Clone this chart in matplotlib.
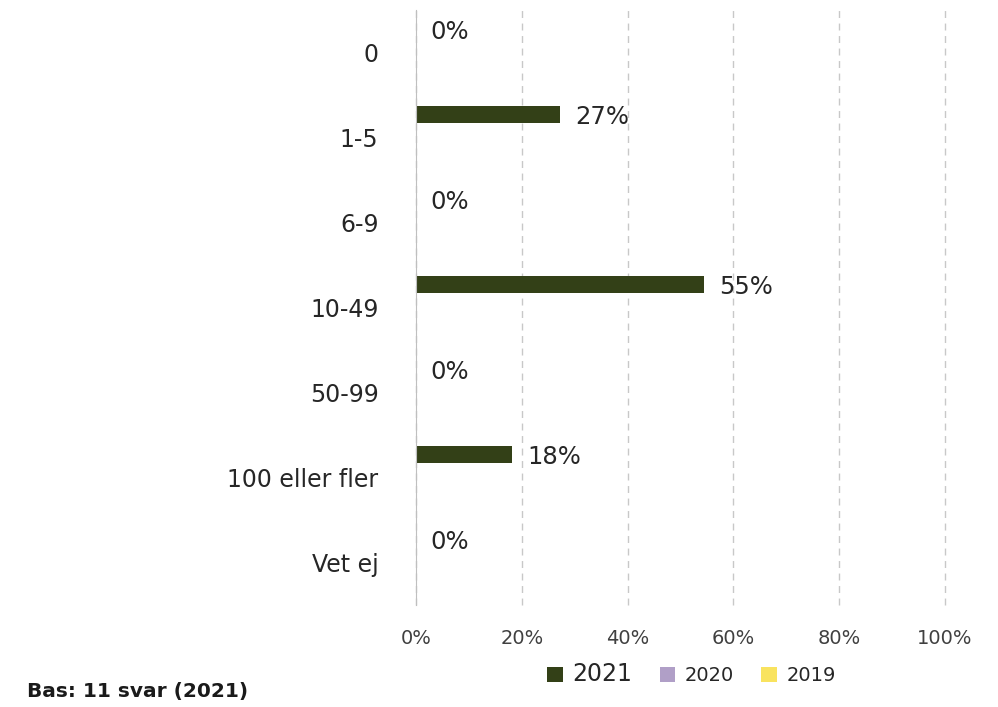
import numpy as np
import matplotlib
matplotlib.use('Agg')
import matplotlib.pyplot as plt

categories = ['0', '1-5', '6-9', '10-49', '50-99', '100 eller fler', 'Vet ej']
v2021 = [0.0, 27.3, 0.0, 54.5, 0.0, 18.2, 0.0]
v2020 = [np.nan] * 7
v2019 = [np.nan] * 7
series = ['2021', '2020', '2019']
colors = ['#334017', '#b09fc7', '#f9e35f']

plt.rcParams['font.family'] = 'DejaVu Sans'

fig = plt.figure(figsize=(9.98, 7.07), dpi=100)
ax = fig.add_axes([0.4168, 0.1443, 0.5302, 0.8416])

y = np.arange(len(categories))
h = 0.21
off = 0.27
for i, (vals, name, c) in enumerate(zip([v2021, v2020, v2019], series, colors)):
    ax.barh(y - off + i * off, vals, height=h, color=c, label=name)

# data labels for 2021
for yi, v in zip(y, v2021):
    ax.text(v + 2.8, yi - off + 0.03, '%d%%' % int(v + 0.5), va='center', ha='left',
            fontsize=17.5, color='#262626')

ax.set_xlim(0, 100)
ax.set_ylim(len(categories) - 0.5, -0.5)
ax.set_xticks(np.arange(0, 101, 20))
ax.set_xticklabels(['%d%%' % t for t in range(0, 101, 20)], fontsize=14, color='#404040')
ax.set_yticks(y)
ax.set_yticklabels(categories, fontsize=17, color='#262626')
ax.tick_params(axis='both', length=0)
ax.tick_params(axis='y', pad=27)
ax.tick_params(axis='x', pad=17)

ax.grid(axis='x', linestyle=(0, (5, 4)), color='#c8c8c8', linewidth=1)
for gl in ax.get_xgridlines():
    gl.set_clip_on(False)
ax.set_axisbelow(True)
for s in ['top', 'right', 'bottom']:
    ax.spines[s].set_visible(False)
ax.spines['left'].set_color('#bfbfbf')

leg = fig.legend(loc='center', bbox_to_anchor=(0.693, 0.046), ncol=3, frameon=False,
                 handlelength=0.8, handleheight=0.8, handletextpad=0.5, columnspacing=1.4,
                 fontsize=14)
leg.get_texts()[0].set_fontsize(17)
for t in leg.get_texts():
    t.set_color('#262626')

fig.text(0.027, 0.014, 'Bas: 11 svar (2021)', fontsize=14.5, fontweight='bold', color='#1a1a1a')

fig.savefig('out.png', dpi=100)
